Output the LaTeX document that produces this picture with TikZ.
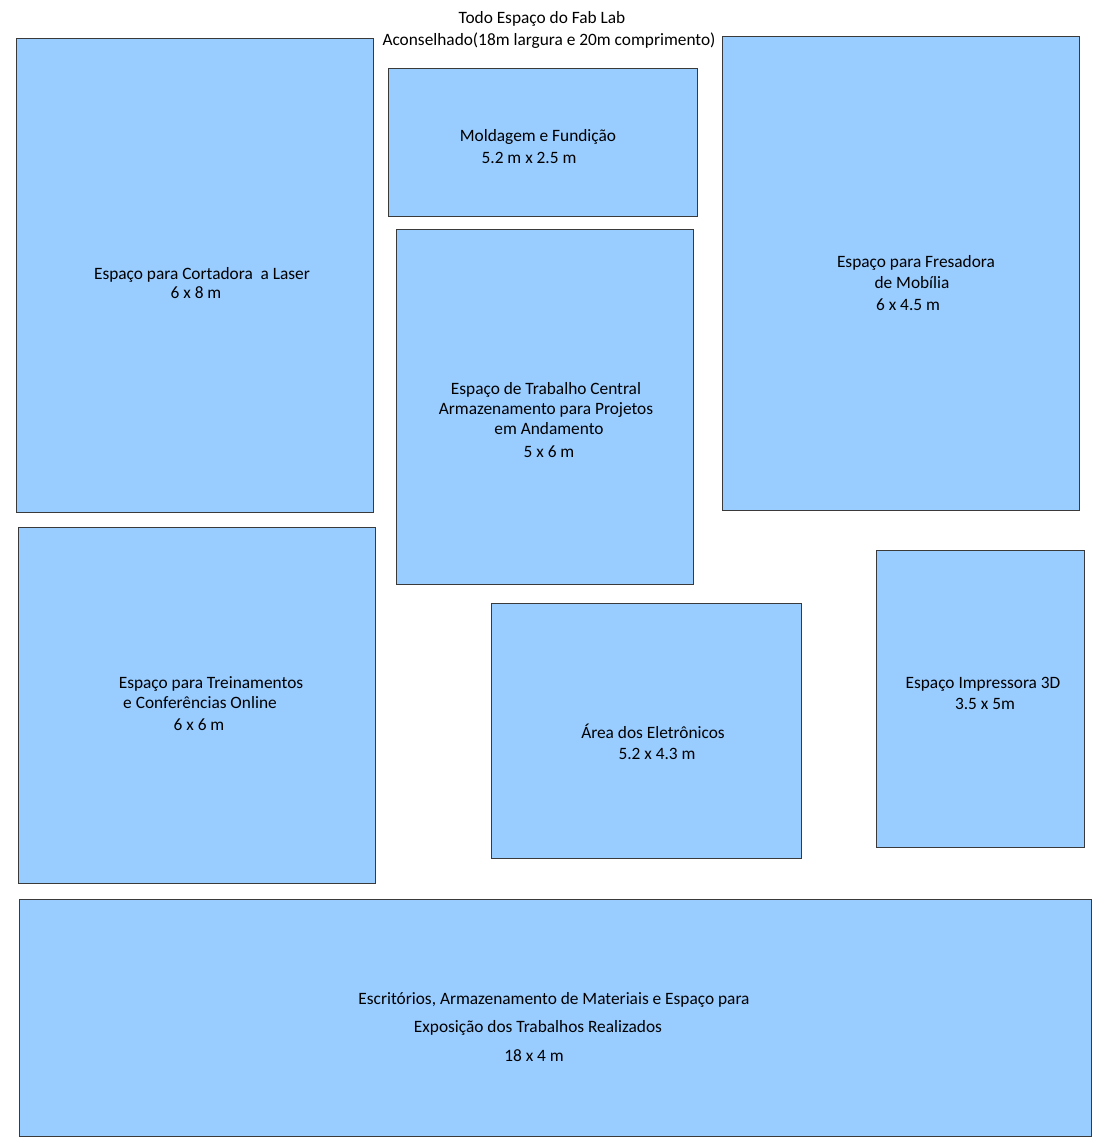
\documentclass[tikz,border=0pt]{standalone}
\usepackage{fontspec}
\setmainfont{Carlito}
\usepackage{xcolor}
\definecolor{roomblue}{HTML}{99CCFF}
\definecolor{roomline}{HTML}{3A3A3A}
\tikzset{room/.style={fill=roomblue, draw=roomline, line width=0.6pt},
	lbl/.style={anchor=base, inner sep=0pt, font=\fontsize{13}{15}\selectfont}}

\begin{document}
\begin{tikzpicture}[x=0.75pt, y=-0.75pt]
		\useasboundingbox (0,0) rectangle (1106,1146);

		% titulo
		\node[lbl] (titleA) at (542,23) {Todo Espaço do Fab Lab};
		\node[lbl] (titleB) at (549,45) {Aconselhado(18m largura e 20m comprimento)};

		% salas
		\draw[room] (16,38) rectangle (373,512);
		\draw[room] (388,68) rectangle (697,216);
		\draw[room] (396,229) rectangle (693,584);
		\draw[room] (722,36) rectangle (1079,510);
		\draw[room] (18,527) rectangle (375,883);
		\draw[room] (491,603) rectangle (801,858);
		\draw[room] (876,550) rectangle (1084,847);
		\draw[room] (19,899) rectangle (1091,1136);

		\node[lbl] (laserA) at (202,279) {Espaço para Cortadora\ \ a Laser};
		\node[lbl] (laserB) at (196,298) {6 x 8 m};

		\node[lbl] (moldA) at (538,141) {Moldagem e Fundição};
		\node[lbl] (moldB) at (529,163) {5.2 m x 2.5 m};

		\node[lbl] (centralA) at (546,394) {Espaço de Trabalho Central};
		\node[lbl] (centralB) at (546,414) {Armazenamento para Projetos};
		\node[lbl] (centralC) at (549,434) {em Andamento};
		\node[lbl] (centralD) at (549,457) {5 x 6 m};

		\node[lbl] (fresaA) at (916,267) {Espaço para Fresadora};
		\node[lbl] (fresaB) at (912,288) {de Mobília};
		\node[lbl] (fresaC) at (908,310) {6 x 4.5 m};

		\node[lbl] (treinoA) at (211,688) {Espaço para Treinamentos};
		\node[lbl] (treinoB) at (200,708) {e Conferências Online};
		\node[lbl] (treinoC) at (199,730) {6 x 6 m};

		\node[lbl] (eletroA) at (653,738) {Área dos Eletrônicos};
		\node[lbl] (eletroB) at (657,759) {5.2 x 4.3 m};

		\node[lbl] (impA) at (983,688) {Espaço Impressora 3D};
		\node[lbl] (impB) at (985,709) {3.5 x 5m};

		\node[lbl] (escA) at (554,1004) {Escritórios, Armazenamento de Materiais e Espaço para};
		\node[lbl] (escB) at (538,1032) {Exposição dos Trabalhos Realizados};
		\node[lbl] (escC) at (534,1061) {18 x 4 m};
	\end{tikzpicture}
\end{document}
